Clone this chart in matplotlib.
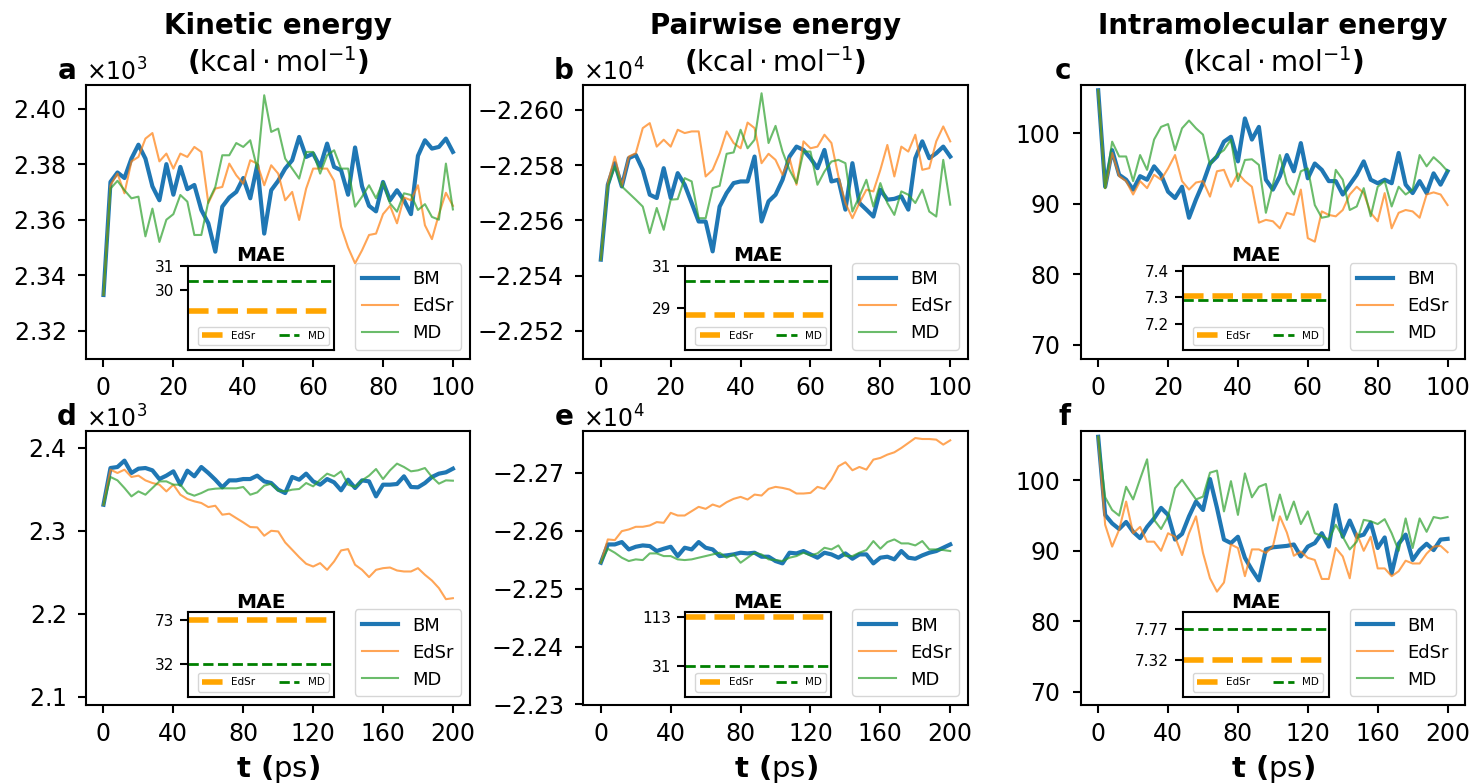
import numpy as np
import matplotlib
matplotlib.use("Agg")
from matplotlib import pyplot as plt

# time grids (ps)
t_100 = np.arange(0, 101, 2)
t_200 = np.arange(0, 201, 4)

# a: kinetic energy, 100 ps
ke_bm_100 = [2332.9, 2373.6, 2377, 2375, 2382, 2387, 2382, 2372, 2367, 2380, 2369, 2379, 2371,
             2372.5, 2363.5, 2358.7, 2348.5, 2364.7, 2368, 2370, 2375, 2367.7, 2379.6, 2355, 2370.6,
             2374, 2378.4, 2381.4, 2389.8, 2382.6, 2383.8, 2379, 2387.4, 2379, 2377.8, 2369, 2386,
             2372, 2365, 2363, 2373.6, 2367, 2370.6, 2367, 2362, 2383, 2388.6, 2385.6, 2386.2,
             2389.2, 2384.4]
ke_edsr_100 = [2332.9, 2372.4, 2376.6, 2369.5, 2381, 2382.6, 2389.2, 2391.2, 2381, 2383.8, 2378.4,
               2383.8, 2382.6, 2386.2, 2384.4, 2366, 2371.2, 2371.8, 2380.2, 2376, 2373, 2381.4,
               2380.2, 2372.4, 2379.6, 2376.6, 2367, 2370, 2359.9, 2371.2, 2378.4, 2378.4, 2378.4,
               2374, 2357.5, 2350, 2344.3, 2349, 2354.5, 2355, 2362, 2365, 2358.7, 2368, 2367,
               2372.4, 2358, 2353, 2362, 2369.7, 2365]
ke_md_100 = [2332.9, 2371.2, 2374, 2370.6, 2367.7, 2368.3, 2354, 2364, 2352, 2360, 2362, 2368.9,
             2366.5, 2354.5, 2354.5, 2366.5, 2371.8, 2383.2, 2383.2, 2387.6, 2386.2, 2388.6, 2378.4,
             2404.8, 2391.6, 2392.8, 2382, 2378.4, 2374.8, 2384.4, 2384.4, 2376.6, 2383.2, 2385,
             2378.4, 2378.4, 2364.7, 2368.3, 2372.4, 2367.7, 2373.6, 2365.9, 2362.9, 2369.5, 2368.9,
             2363.5, 2365.6, 2361, 2360, 2380.2, 2363.7]

# b: pairwise energy, 100 ps
pe_bm_100 = [-22545.8, -22572.9, -22580.7, -22572.3, -22582.5, -22583.7, -22578.3, -22569.3,
             -22568.1, -22578.9, -22568.1, -22577.1, -22572.9, -22566.3, -22559.6, -22559.6,
             -22548.8, -22565, -22569.9, -22573.5, -22574.1, -22574.1, -22583.1, -22559.6,
             -22566.9, -22569.3, -22574.7, -22583.1, -22586.7, -22585.5, -22582.5, -22578.9,
             -22585.5, -22574.1, -22574.7, -22563.9, -22580.7, -22566.3, -22563.9, -22561.4,
             -22571.1, -22567.5, -22567.8, -22568.7, -22563.9, -22582.5, -22588.6, -22582.5,
             -22584.3, -22586.7, -22583.1]
pe_edsr_100 = [-22545.8, -22573.5, -22583.1, -22572.3, -22583.1, -22584.3, -22593.4, -22595.2,
               -22586.7, -22589.2, -22586.7, -22592.8, -22591.6, -22592.2, -22592.2, -22575.9,
               -22578.3, -22584.3, -22592.2, -22588, -22586.1, -22595.4, -22593.4, -22580.7,
               -22584.1, -22581.9, -22576.5, -22582.5, -22572.9, -22588.6, -22586.1, -22586.7,
               -22591, -22588, -22575.9, -22566.3, -22560.8, -22566.3, -22571.1, -22570.5,
               -22578.3, -22587.3, -22575.9, -22586.7, -22584.9, -22591, -22578.3, -22578.9,
               -22588.6, -22594, -22588.6]
pe_md_100 = [-22545.8, -22572.3, -22579.5, -22572.3, -22569.9, -22567.5, -22565, -22555.4,
             -22564.5, -22556.6, -22567.5, -22567.7, -22575.3, -22574.1, -22560.8, -22560.8,
             -22571.7, -22572.5, -22584.1, -22584.6, -22592.8, -22586.1, -22589.2, -22606,
             -22588, -22594.2, -22584.9, -22578.3, -22573.5, -22584.9, -22584.9, -22572.9,
             -22577.7, -22581.3, -22581.9, -22580.7, -22563.2, -22568.7, -22574.7, -22565,
             -22573.5, -22566.3, -22562, -22570.5, -22569.3, -22566.3, -22571.1, -22563.2,
             -22561.4, -22581.9, -22565.7]

# c: intramolecular energy, 100 ps
ie_bm_100 = [106.1, 92.4, 97.6, 94.1, 93.4, 92, 93.9, 93.4, 95.3, 94.1, 91.7, 90.8, 92.4, 88,
             90.6, 92.9, 95.7, 96.7, 98.8, 99.5, 96, 102.1, 99.1, 100.9, 93.4, 92, 93.9, 96.9,
             94.6, 98.6, 93.6, 95.7, 94.8, 93.2, 93.2, 91.3, 92.7, 94.1, 96, 93.4, 92.9, 93.4,
             92.9, 97.2, 92.7, 91.5, 93.2, 91.5, 94.3, 92.7, 94.6]
ie_edsr_100 = [106.1, 92.2, 97.2, 93.9, 93.2, 91.3, 93.2, 92.2, 94.1, 93.4, 95, 96.9, 93.2, 92,
               93, 93.2, 91, 94.6, 94.8, 92.4, 94.3, 93.2, 92.4, 87.3, 87.7, 87.5, 86.5, 88.7,
               88.4, 92, 85.1, 84.6, 88.9, 88.4, 88.2, 89.1, 91.3, 92.4, 91.5, 88.7, 87.5, 91.5,
               86.5, 88.7, 89.1, 88.9, 88, 91.3, 91.6, 91.3, 89.8]
ie_md_100 = [106.1, 92.2, 98.8, 96.7, 96.7, 93.2, 96.9, 94.8, 99.1, 100.9, 101.3, 97.6, 100.7,
             101.8, 100.7, 99.8, 95.5, 96.9, 97.6, 99.1, 93.2, 96.2, 96.3, 95.5, 88.7, 92.7,
             96.9, 92.9, 91.3, 94.6, 95, 89.8, 88, 88.2, 94.8, 93.4, 89.1, 89.6, 92.2, 88.2,
             92.4, 93.2, 89.6, 92.4, 91.3, 92, 96.9, 95.3, 96.6, 95.7, 94.6]

# d: kinetic energy, 200 ps
ke_bm_200 = [2331.5, 2375.8, 2377, 2384.7, 2369.8, 2375, 2375.8, 2373, 2362.5, 2366.6, 2371.8,
             2355.7, 2372.6, 2365.8, 2377, 2369.8, 2361.7, 2352.5, 2360.9, 2360.9, 2362.5, 2362.5,
             2366.6, 2359.7, 2357.7, 2349.7, 2345.6, 2365, 2361.7, 2369, 2359.7, 2355.7, 2362.5,
             2358.5, 2348.9, 2361.7, 2351.7, 2360.9, 2359.7, 2341.6, 2355.7, 2355.7, 2356.5,
             2365.8, 2352.9, 2352.5, 2357.7, 2365, 2369, 2370.6, 2375]
ke_edsr_200 = [2331.5, 2373.8, 2369.8, 2373.8, 2365, 2366.6, 2360.9, 2357.7, 2355.7, 2347.6,
               2355.7, 2343.6, 2338.4, 2335.6, 2333.6, 2328.7, 2330.3, 2319.5, 2320.7, 2315.4,
               2310.2, 2304.6, 2304.2, 2294.1, 2300.1, 2299.3, 2286, 2277.2, 2268.3, 2260.3, 2257,
               2261.1, 2253, 2263.1, 2276.4, 2278, 2259.1, 2253, 2244.2, 2253, 2255, 2255.8,
               2252.2, 2251, 2251, 2255, 2247, 2240.1, 2230.9, 2217.6, 2218.8]
ke_md_200 = [2331.5, 2365, 2360.9, 2351.7, 2341.6, 2347.6, 2343.6, 2351.7, 2359.7, 2359.7, 2355.7,
             2355.7, 2345.6, 2342.4, 2345.6, 2349.7, 2350.9, 2351.3, 2351.3, 2351.3, 2352.9,
             2343.6, 2346.4, 2354.5, 2356.9, 2348.5, 2347.6, 2349.7, 2350.5, 2357.7, 2353.7,
             2361.7, 2369, 2365.8, 2371.8, 2355.7, 2352.9, 2360.9, 2366.6, 2374.6, 2362.5, 2373,
             2381.1, 2377, 2371.8, 2373, 2375.8, 2365, 2356.9, 2360.9, 2360.5]

# e: pairwise energy, 200 ps
pe_bm_200 = [-22544.8, -22576.4, -22576.4, -22580.5, -22567.8, -22572.4, -22574.7, -22573.6,
             -22565, -22569, -22572.4, -22556.3, -22570.7, -22567.8, -22580.5, -22570.7,
             -22567.8, -22556.3, -22557.5, -22559.2, -22562.1, -22560.9, -22562.1, -22555.2,
             -22555.2, -22547.7, -22543.7, -22562.1, -22560.9, -22565, -22559.2, -22553.5,
             -22562.1, -22559.2, -22553.5, -22560.9, -22551.7, -22559.2, -22559.2, -22543.7,
             -22553.5, -22555.2, -22550.6, -22565, -22553.5, -22551.7, -22557.5, -22562.1,
             -22565, -22570.7, -22576.4]
pe_edsr_200 = [-22544.8, -22585.1, -22583.9, -22599.4, -22602.3, -22606.9, -22606.9, -22609.2,
               -22615, -22613.8, -22631, -22626.4, -22626.4, -22633.9, -22641.4, -22637.9,
               -22645.4, -22641.4, -22649.4, -22655.2, -22658.6, -22654, -22662.6, -22660.9,
               -22672.4, -22675.9, -22674.1, -22671.3, -22664.4, -22664.4, -22665.5, -22675.9,
               -22672.4, -22688.5, -22711.5, -22718.4, -22704.6, -22710.3, -22705.7, -22723,
               -22725.9, -22731.6, -22735.6, -22743.1, -22751.7, -22760.3, -22758.6, -22758.6,
               -22757.5, -22748.9, -22756.3]
pe_md_200 = [-22544.8, -22569, -22562.1, -22553.5, -22547.7, -22550.6, -22549.4, -22560.9,
             -22560.9, -22556.3, -22556.3, -22550.6, -22549.4, -22550.6, -22553.5, -22556.3,
             -22559.2, -22562.1, -22553.5, -22559.2, -22544.8, -22553.5, -22562.1, -22559.2,
             -22550.6, -22549.4, -22547.7, -22553.5, -22556.3, -22562.1, -22557.5, -22560.9,
             -22570.7, -22567.8, -22574.7, -22556.3, -22556.3, -22562.1, -22566.7, -22582.2,
             -22569, -22580.5, -22585.1, -22578.2, -22578.2, -22574.7, -22582.2, -22567.8,
             -22567.8, -22566.7, -22565]

# f: intramolecular energy, 200 ps
ie_bm_200 = [106.2, 95.1, 93.9, 93.1, 94.1, 92.7, 91.8, 93.4, 94.6, 96.1, 95.1, 91.6, 92.4, 94.9,
             97, 95.8, 100.2, 96.1, 91.6, 91.1, 92, 89, 87.3, 85.8, 90.2, 90.5, 90.6, 90.7, 90.9,
             89.2, 90.6, 91.1, 92.5, 90.6, 96.5, 92, 94.3, 92, 92.3, 94, 90.4, 91.9, 86.8, 91,
             92.3, 88.7, 90.1, 91, 90.1, 91.6, 91.7]
ie_edsr_200 = [106.2, 93.7, 90.6, 93, 97, 92.5, 93.4, 91.3, 91.3, 90, 92.5, 92, 89.4, 92.5, 94.9,
               89.7, 86.1, 84.2, 85.5, 90.9, 90.4, 86.4, 90.2, 90.2, 89.7, 90.6, 94.9, 92.6,
               89.3, 89.9, 89, 88.7, 86, 86, 90.4, 89.2, 86.1, 92.5, 90, 92, 87.5, 87.5, 86.4,
               87.1, 88.6, 88.2, 88.2, 89.6, 90.6, 90.7, 89.8]
ie_md_200 = [106.2, 97.6, 95.8, 95, 99.1, 97.3, 100.2, 103, 94.4, 93.1, 94.9, 98.9, 100.1, 98.7,
             97.3, 97.7, 101.1, 101.4, 95.6, 99.9, 95.1, 101, 97.6, 99.1, 99.5, 94.3, 98, 94.4,
             97, 93.8, 95.6, 92.5, 92.1, 91.6, 93.7, 92, 90.2, 91.3, 94.4, 94.2, 93.8, 94.5,
             92.5, 90, 94.6, 90.4, 94.6, 92.7, 94.8, 94.6, 94.8]

# MAE against BM: (EdSr, MD)
mae_edsr = [29.11, 28.69, 7.307, 73.0, 113.0, 7.32]
mae_md = [30.37, 30.25, 7.29, 32.0, 31.0, 7.77]

titles = ["Kinetic energy", "Pairwise energy", "Intramolecular energy"]
letters = ["a", "b", "c", "d", "e", "f"]

panels = [
    (t_100, ke_bm_100, ke_edsr_100, ke_md_100),
    (t_100, pe_bm_100, pe_edsr_100, pe_md_100),
    (t_100, ie_bm_100, ie_edsr_100, ie_md_100),
    (t_200, ke_bm_200, ke_edsr_200, ke_md_200),
    (t_200, pe_bm_200, pe_edsr_200, pe_md_200),
    (t_200, ie_bm_200, ie_edsr_200, ie_md_200),
]

ylims = [(2310, 2408.5), (-22510, -22609), (68, 106.85),
         (2090, 2420), (-22299, -22771.8), (68.1, 106.97)]
yticks = [[2320, 2340, 2360, 2380, 2400], [-22600, -22580, -22560, -22540, -22520],
          [70, 80, 90, 100], [2100, 2200, 2300, 2400],
          [-22700, -22600, -22500, -22400, -22300], [70, 80, 90, 100]]
inset_ylims = [(27.5, 31.0), (27.0, 31.0), (7.10, 7.42), (0.9, 80.8), (-21, 121.3), (6.80, 8.01)]
inset_ticks = [[30, 31], [29, 31], [7.2, 7.3, 7.4], [32, 73], [31, 113], [7.32, 7.77]]
inset_labels = [["30", "31"], ["29", "31"], ["7.2", "7.3", "7.4"], ["32", "73"],
                ["31", "113"], ["7.32", "7.77"]]

plt.rcParams["axes.linewidth"] = 1.5
plt.rcParams["xtick.major.width"] = 1.5
plt.rcParams["ytick.major.width"] = 1.5
plt.rcParams["xtick.major.size"] = 6
plt.rcParams["ytick.major.size"] = 6
plt.rcParams["xtick.major.pad"] = 6.5
plt.rcParams["ytick.major.pad"] = 8.5

fig, axes = plt.subplots(2, 3, figsize=(14.73, 7.84), dpi=100)
plt.subplots_adjust(left=0.0584, right=0.9946, top=0.8916, bottom=0.1008,
                    wspace=0.294, hspace=0.266)

for k, ax in enumerate(axes.flat):
    t, bm, edsr, md = panels[k]
    ax.plot(t, bm, color="#1f77b4", lw=3, label="BM")
    ax.plot(t, edsr, color="#ff7f0e", lw=1.5, alpha=0.7, label="EdSr")
    ax.plot(t, md, color="#2ca02c", lw=1.5, alpha=0.7, label="MD")
    ax.set_yticks(yticks[k])
    ax.set_ylim(ylims[k])
    if k < 3:
        ax.set_xticks([0, 20, 40, 60, 80, 100])
        ax.set_title(titles[k] + "\n" + r"($\mathrm{kcal \cdot mol^{-1}}$)",
                     fontsize=20, fontweight="bold", pad=9)
    else:
        ax.set_xticks([0, 40, 80, 120, 160, 200])
        ax.set_xlabel(r"t ($\mathrm{ps}$)", fontsize=21, fontweight="bold", labelpad=5)
    ax.tick_params(labelsize=17)
    if k % 3 != 2:
        ax.ticklabel_format(axis="y", style="sci", scilimits=(0, 0), useMathText=True)
        ax.yaxis.get_offset_text().set_fontsize(17)
    ax.text(-0.025, 1.0, letters[k], transform=ax.transAxes, fontsize=20,
            fontweight="bold", ha="right", va="bottom")
    ax.legend(loc="lower right", fontsize=13, handlelength=2.0)

    # MAE inset
    ins = ax.inset_axes([0.265, 0.03, 0.38, 0.31])
    ins.axhline(mae_edsr[k], color="orange", ls="--", lw=4, label="EdSr")
    ins.axhline(mae_md[k], color="green", ls="--", lw=2, label="MD")
    ins.set_ylim(inset_ylims[k])
    ins.set_yticks(inset_ticks[k])
    ins.set_yticklabels(inset_labels[k])
    ins.set_xticks([])
    ins.tick_params(labelsize=11, length=6, pad=4)
    ins.set_title("MAE", fontsize=14.5, fontweight="bold", pad=3)
    ins.legend(loc="lower right", ncol=2, fontsize=7.5, columnspacing=2.2)

fig.savefig("out.png", dpi=100)
